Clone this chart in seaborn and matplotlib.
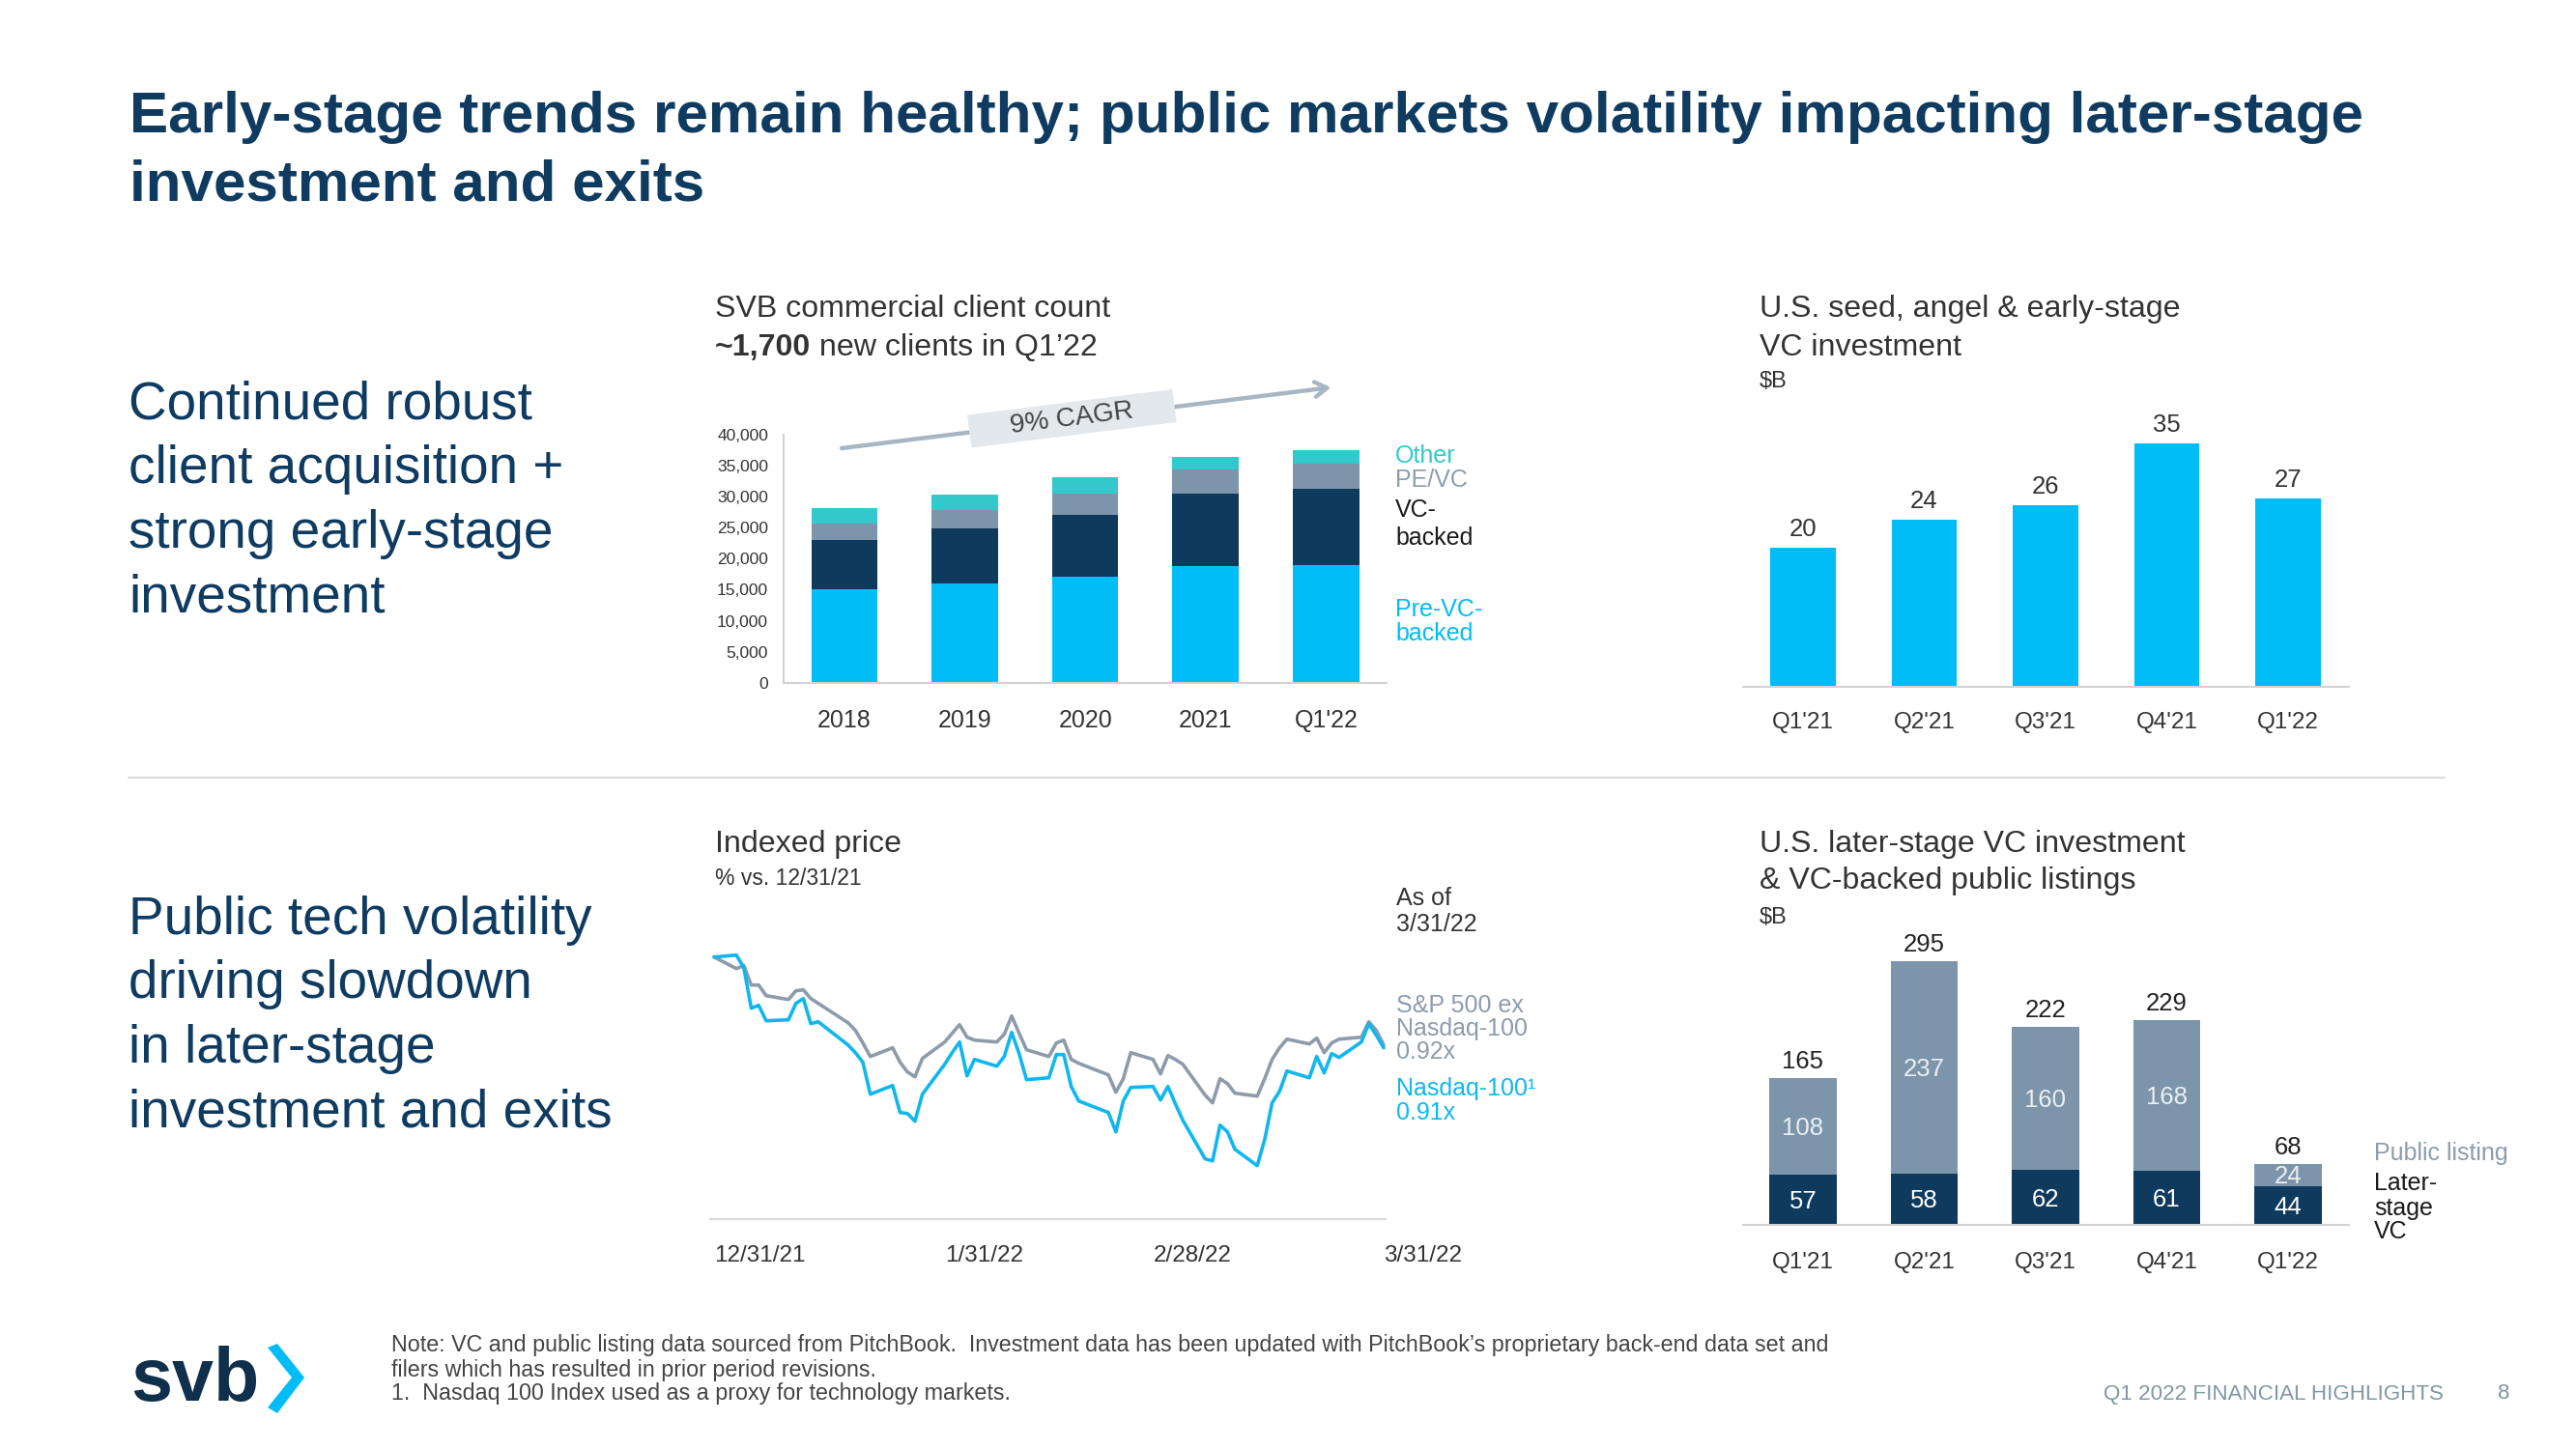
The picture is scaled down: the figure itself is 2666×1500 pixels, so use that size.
import matplotlib
matplotlib.use("Agg")
import matplotlib.pyplot as plt
import seaborn as sns
import pandas as pd
import numpy as np
from matplotlib.patches import Polygon
from matplotlib.ticker import FuncFormatter

# ---------------- data ----------------
client_periods = ["2018", "2019", "2020", "2021", "Q1'22"]
pre_vc_backed = [15000, 16050, 17100, 18800, 19000]
vc_backed = [8050, 8850, 10000, 11700, 12300]
other_pe_vc = [2650, 3000, 3400, 3900, 4000]
other_clients = [2500, 2500, 2600, 2000, 2200]
client_yticks = [0, 5000, 10000, 15000, 20000, 25000, 30000, 35000, 40000]

quarters = ["Q1'21", "Q2'21", "Q3'21", "Q4'21", "Q1'22"]
early_stage_investment = [20, 24, 26, 35, 27]
later_stage_vc = [57, 58, 62, 61, 44]
public_listing = [108, 237, 160, 168, 24]

trade_dates = [
    "2021-12-31",
    "2022-01-03", "2022-01-04", "2022-01-05", "2022-01-06", "2022-01-07",
    "2022-01-10", "2022-01-11", "2022-01-12", "2022-01-13", "2022-01-14",
    "2022-01-18", "2022-01-19", "2022-01-20", "2022-01-21",
    "2022-01-24", "2022-01-25", "2022-01-26", "2022-01-27", "2022-01-28",
    "2022-01-31", "2022-02-01", "2022-02-02", "2022-02-03", "2022-02-04",
    "2022-02-07", "2022-02-08", "2022-02-09", "2022-02-10", "2022-02-11",
    "2022-02-14", "2022-02-15", "2022-02-16", "2022-02-17", "2022-02-18",
    "2022-02-22", "2022-02-23", "2022-02-24", "2022-02-25",
    "2022-02-28", "2022-03-01", "2022-03-02", "2022-03-03", "2022-03-04",
    "2022-03-07", "2022-03-08", "2022-03-09", "2022-03-10", "2022-03-11",
    "2022-03-14", "2022-03-15", "2022-03-16", "2022-03-17", "2022-03-18",
    "2022-03-21", "2022-03-22", "2022-03-23", "2022-03-24", "2022-03-25",
    "2022-03-28", "2022-03-29", "2022-03-30", "2022-03-31",
]
nasdaq_100 = [
    1.000,
    1.002, 0.989, 0.947, 0.950, 0.934, 0.935, 0.952, 0.957, 0.931, 0.933,
    0.909, 0.901, 0.891, 0.858, 0.867, 0.839, 0.838, 0.830, 0.858, 0.889,
    0.901, 0.912, 0.877, 0.894, 0.887, 0.897, 0.922, 0.900, 0.873, 0.875,
    0.899, 0.899, 0.866, 0.851, 0.839, 0.819, 0.851, 0.865, 0.866,
    0.852, 0.866, 0.848, 0.831, 0.791, 0.789, 0.826, 0.819, 0.801, 0.784,
    0.811, 0.849, 0.861, 0.882, 0.875, 0.897, 0.880, 0.900, 0.896, 0.912,
    0.931, 0.919, 0.906,
]
sp500_ex_nasdaq = [
    1.000,
    0.988, 0.991, 0.971, 0.971, 0.960, 0.956, 0.965, 0.966, 0.957, 0.952,
    0.932, 0.924, 0.911, 0.897, 0.906, 0.891, 0.881, 0.876, 0.895, 0.912,
    0.921, 0.930, 0.917, 0.914, 0.912, 0.920, 0.939, 0.921, 0.904, 0.897,
    0.911, 0.914, 0.894, 0.890, 0.878, 0.860, 0.874, 0.901, 0.894,
    0.879, 0.898, 0.894, 0.889, 0.857, 0.849, 0.874, 0.869, 0.859, 0.856,
    0.874, 0.894, 0.906, 0.915, 0.910, 0.916, 0.901, 0.911, 0.915, 0.917,
    0.933, 0.924, 0.909,
]
date_ticks = ["2021-12-31", "2022-01-31", "2022-02-28", "2022-03-31"]
date_tick_labels = ["12/31/21", "1/31/22", "2/28/22", "3/31/22"]

# ---------------- style ----------------
sns.set_style("white")
plt.rcParams["font.family"] = ["Liberation Sans", "DejaVu Sans"]

TITLE_NAVY = "#0f3b61"
TXT = "#333333"
CYAN = "#00bdf7"
NAVY = "#0e3a5e"
STEEL = "#7d95aa"
TEAL = "#33c9cc"
LINE_GRAY = "#8e9bab"
LINE_CYAN = "#10b7ef"
AXIS = "#d2d2d2"
LEGEND_GRAY = "#8c9dae"

W, H = 2666, 1500
fig = plt.figure(figsize=(W / 100, H / 100), dpi=100)
renderer = fig.canvas.get_renderer()


def fx(x):
    return x / W


def fy(y):
    return 1 - y / H


def ftext(x, y, s, **kw):
    kw.setdefault("va", "baseline")
    return fig.text(fx(x), fy(y), s, **kw)


def fit_width(t, target):
    w = t.get_window_extent(renderer).width
    t.set_fontsize(t.get_fontsize() * target / w)
    return t.get_fontsize()


def axes_px(left, top, right, bottom):
    return fig.add_axes([fx(left), fy(bottom), (right - left) / W, (bottom - top) / H])


# ---------------- slide title ----------------
t = ftext(134, 137, "Early-stage trends remain healthy; public markets volatility impacting later-stage",
          fontsize=40, fontweight="bold", color=TITLE_NAVY)
ts = fit_width(t, 2306)
ftext(134, 208, "investment and exits", fontsize=ts, fontweight="bold", color=TITLE_NAVY)

# ---------------- left side texts ----------------
for i, line in enumerate(["Continued robust", "client acquisition +", "strong early-stage", "investment"]):
    ftext(133, 434 + 66.4 * i, line, fontsize=39.5, color=TITLE_NAVY)
for i, line in enumerate(["Public tech volatility", "driving slowdown", "in later-stage", "investment and exits"]):
    ftext(133, 967 + 66.4 * i, line, fontsize=39.5, color=TITLE_NAVY)

# separator
fig.add_artist(plt.Line2D([fx(133), fx(2530)], [fy(805), fy(805)], color="#dcdcdc", lw=1.5))

# ---------------- chart titles ----------------
t = ftext(740, 328, "SVB commercial client count", fontsize=22, color=TXT)
cts = fit_width(t, 408)
t1 = ftext(740, 368, "~1,700", fontsize=cts, fontweight="bold", color=TXT)
bb = t1.get_window_extent(renderer)
ftext(bb.x1, 368, " new clients in Q1\u201922", fontsize=cts, color=TXT)

ftext(1821, 328, "U.S. seed, angel & early-stage", fontsize=cts, color=TXT)
ftext(1821, 368, "VC investment", fontsize=cts, color=TXT)
ftext(1821, 401, "$B", fontsize=17, color=TXT)

ftext(740, 882, "Indexed price", fontsize=cts, color=TXT)
ftext(740, 916, "% vs. 12/31/21", fontsize=16.5, color=TXT)

ftext(1821, 882, "U.S. later-stage VC investment", fontsize=cts, color=TXT)
ftext(1821, 920, "& VC-backed public listings", fontsize=cts, color=TXT)
ftext(1821, 956, "$B", fontsize=17, color=TXT)

# ---------------- chart 1: stacked client count ----------------
ax1 = axes_px(811, 450, 1434.6, 706.7)
cum_vc = np.add(pre_vc_backed, vc_backed)
cum_pe = cum_vc + np.array(other_pe_vc)
cum_all = cum_pe + np.array(other_clients)
for vals, col in [(cum_all, TEAL), (cum_pe, STEEL), (cum_vc, NAVY), (pre_vc_backed, CYAN)]:
    sns.barplot(x=client_periods, y=vals, color=col, width=0.55, saturation=1,
                linewidth=0, ax=ax1)
ax1.set_xlim(-0.506, 4.5)
ax1.set_ylim(0, 40000)
ax1.set_yticks(client_yticks)
ax1.yaxis.set_major_formatter(FuncFormatter(lambda v, p: f"{int(v):,}"))
ax1.tick_params(axis="y", labelsize=12.5, pad=11.5, length=0, colors=TXT)
ax1.tick_params(axis="x", labelsize=18, pad=19.5, length=0, colors=TXT)
ax1.set_xlabel("")
ax1.set_ylabel("")
for s in ["top", "right"]:
    ax1.spines[s].set_visible(False)
for s in ["left", "bottom"]:
    ax1.spines[s].set_color(AXIS)
    ax1.spines[s].set_linewidth(1.5)

# CAGR arrow and label
ax1.annotate("", xy=(4.043, 47634), xytext=(-0.024, 37818),
             arrowprops=dict(arrowstyle="->,head_length=0.9,head_width=0.55",
                             color="#a8b6c4", lw=3.2, shrinkA=0, shrinkB=0),
             annotation_clip=False, zorder=3)
ax1.text(1.889, 42602, "     9% CAGR     ", fontsize=20, color="#444444",
         rotation=7.1, rotation_mode="anchor", ha="center", va="center",
         bbox=dict(boxstyle="square,pad=0.15", fc="#e3e8ed", ec="none"),
         zorder=4, clip_on=False)

# legend labels
for txt_, y_, c_ in [("Other", 472, TEAL), ("PE/VC", 497, LEGEND_GRAY), ("VC-", 528, "#1a1a1a"),
                     ("backed", 557, "#1a1a1a"), ("Pre-VC-", 631, CYAN), ("backed", 656, CYAN)]:
    ftext(1444, y_, txt_, fontsize=18, color=c_, va="center")

# ---------------- chart 2: early-stage investment ----------------
ax2 = axes_px(1804, 422.7, 2430.75, 710.7)
sns.barplot(x=quarters, y=early_stage_investment, color=CYAN, width=0.54, saturation=1,
            linewidth=0, ax=ax2)
ax2.set_xlim(-0.494, 4.5)
ax2.set_ylim(0, 40)
ax2.set_yticks([])
ax2.tick_params(axis="x", labelsize=17.5, pad=19, length=0, colors=TXT)
ax2.set_xlabel("")
ax2.set_ylabel("")
for s in ["top", "right", "left"]:
    ax2.spines[s].set_visible(False)
ax2.spines["bottom"].set_color(AXIS)
ax2.spines["bottom"].set_linewidth(1.5)
for i, v in enumerate(early_stage_investment):
    ax2.annotate(f"{v}", xy=(i, v), xytext=(0, 12), textcoords="offset pixels",
                 ha="center", va="baseline", fontsize=18.5, color=TXT)

# ---------------- chart 3: indexed price ----------------
ax3 = axes_px(735.15, 960, 1434.3, 1262)
dates = pd.to_datetime(trade_dates)
sns.lineplot(x=dates, y=sp500_ex_nasdaq, color=LINE_GRAY, linewidth=2.6, ax=ax3)
sns.lineplot(x=dates, y=nasdaq_100, color=LINE_CYAN, linewidth=2.6, ax=ax3)
ax3.set_xlim(dates[0] - pd.Timedelta(hours=12), dates[-1] + pd.Timedelta(hours=7))
ax3.set_ylim(0.7287, 1.0307)
ax3.set_yticks([])
ax3.set_xticks(pd.to_datetime(date_ticks))
ax3.set_xticklabels(date_tick_labels)
for lab in ax3.get_xticklabels():
    lab.set_ha("left")
ax3.tick_params(axis="x", labelsize=17.5, pad=19.5, length=0, colors=TXT)
ax3.set_xlabel("")
ax3.set_ylabel("")
for s in ["top", "right", "left"]:
    ax3.spines[s].set_visible(False)
ax3.spines["bottom"].set_color("#d9d9d9")
ax3.spines["bottom"].set_linewidth(1.6)

for txt_, y_, c_ in [("As of", 930, TXT), ("3/31/22", 957, TXT),
                     ("S&P 500 ex", 1041, LINE_GRAY), ("Nasdaq-100", 1065, LINE_GRAY),
                     ("0.92x", 1089, LINE_GRAY), ("Nasdaq-100\u00b9", 1127, LINE_CYAN),
                     ("0.91x", 1152, LINE_CYAN)]:
    ftext(1445, y_, txt_, fontsize=18, color=c_, va="center")

# ---------------- chart 4: later-stage VC + public listings ----------------
ax4 = axes_px(1804, 972.2, 2430.75, 1268.3)
totals = np.add(later_stage_vc, public_listing)
sns.barplot(x=quarters, y=totals, color=STEEL, width=0.55, saturation=1, linewidth=0, ax=ax4)
sns.barplot(x=quarters, y=later_stage_vc, color=NAVY, width=0.55, saturation=1, linewidth=0, ax=ax4)
ax4.set_xlim(-0.494, 4.5)
ax4.set_ylim(0, 320)
ax4.set_yticks([])
ax4.tick_params(axis="x", labelsize=17.5, pad=20, length=0, colors=TXT)
ax4.set_xlabel("")
ax4.set_ylabel("")
for s in ["top", "right", "left"]:
    ax4.spines[s].set_visible(False)
ax4.spines["bottom"].set_color(AXIS)
ax4.spines["bottom"].set_linewidth(1.5)
for i, (lv, pl) in enumerate(zip(later_stage_vc, public_listing)):
    tot = lv + pl
    ax4.annotate(f"{tot}", xy=(i, tot), xytext=(0, 10), textcoords="offset pixels",
                 ha="center", va="baseline", fontsize=18.5, color="#222222")
    ax4.annotate(f"{lv}", xy=(i, lv / 2), xytext=(0, -9), textcoords="offset pixels",
                 ha="center", va="baseline", fontsize=18.5, color="white")
    ax4.annotate(f"{pl}", xy=(i, lv + pl / 2), xytext=(0, -9), textcoords="offset pixels",
                 ha="center", va="baseline", fontsize=18.5, color="#eaeff3")

for txt_, y_, c_ in [("Public listing", 1194, LEGEND_GRAY), ("Later-", 1225, "#1a1a1a"),
                     ("stage", 1251, "#1a1a1a"), ("VC", 1275, "#1a1a1a")]:
    ftext(2457, y_, txt_, fontsize=18, color=c_, va="center")

# ---------------- footer ----------------
logo = ftext(135, 1450, "svb", fontsize=58, fontweight="bold", color="#0f2f4c")
fit_width(logo, 133)
chev = [(277, 1395), (287, 1391), (315, 1426), (287, 1463), (277, 1457), (302, 1426)]
fig.add_artist(Polygon([(fx(x), fy(y)) for x, y in chev], closed=True,
                       transform=fig.transFigure, fc=CYAN, ec="none"))

n1 = ftext(405, 1393, "Note: VC and public listing data sourced from PitchBook.  Investment data has been "
           "updated with PitchBook\u2019s proprietary back-end data set and",
           fontsize=14.5, color="#444444", va="center")
ns = fit_width(n1, 1486)
ftext(405, 1418, "filers which has resulted in prior period revisions.", fontsize=ns,
      color="#444444", va="center")
ftext(405, 1443, "1.  Nasdaq 100 Index used as a proxy for technology markets.", fontsize=ns,
      color="#444444", va="center")

f1 = ftext(2177, 1443, "Q1 2022 FINANCIAL HIGHLIGHTS", fontsize=15.5, color="#7f98a3", va="center")
fs = fit_width(f1, 352)
ftext(2591.5, 1443, "8", fontsize=fs, color="#7f98a3", va="center", ha="center")

fig.savefig("out.png", dpi=100, facecolor="white")
